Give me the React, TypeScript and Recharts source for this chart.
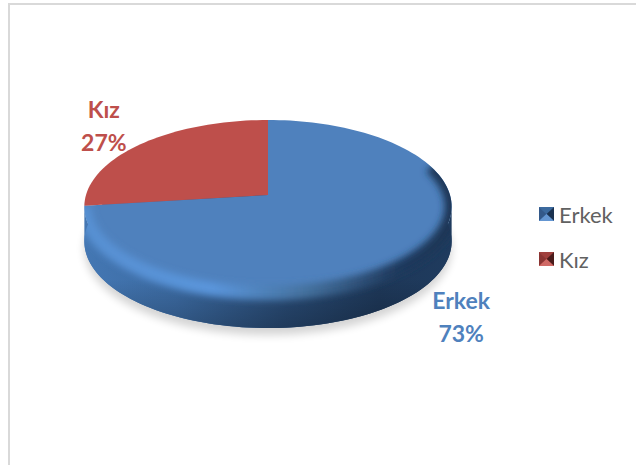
import React from "react";
import { PieChart, Pie, Cell, Legend } from "recharts";

const categories = ["Erkek", "Kız"];
const shares = [73, 27];
const topColors = ["#4F81BD", "#BE4F4B"];

const data = categories.map((name, i) => ({ name, value: shares[i] }));

const FONT = "Lato, sans-serif";
const DEPTH = 35;
// tilt of the disc: the centre sits above the middle of the drawn ellipse
const TILT = -0.133;
const SQUASH = 0.467;

// unit disc -> screen, simple perspective
const project = (cx: number, cy: number, r: number, angle: number, k = 1) => {
  const rad = (angle * Math.PI) / 180;
  const u = Math.cos(rad) * k;
  const v = -Math.sin(rad) * k;
  const w = 1 + TILT * v;
  return { x: cx + (r * u) / w, y: cy + (r * SQUASH * v) / w, v };
};

const arcPoints = (p: any, from: number, to: number) => {
  const pts = [];
  const steps = Math.max(4, Math.ceil(Math.abs(to - from) / 2));
  for (let i = 0; i <= steps; i++) {
    pts.push(project(p.cx, p.cy, p.outerRadius, from + ((to - from) * i) / steps));
  }
  return pts;
};

const toPath = (pts: { x: number; y: number }[]) =>
  pts.map((q, i) => `${i ? "L" : "M"}${q.x.toFixed(2)} ${q.y.toFixed(2)}`).join(" ");

// side wall and floor shadow
const BaseSlice = (p: any) => {
  if (p.name !== categories[0]) return <g />;
  const ring = arcPoints(p, 0, 360);
  const front = arcPoints(p, p.startAngle, p.endAngle).filter((q) => q.v > 0.1);
  const lower = front.map((q) => ({ x: q.x, y: q.y + DEPTH })).reverse();
  const d = toPath(front) + " " + toPath(lower).replace("M", "L") + " Z";
  const shadow = toPath(ring.map((q) => ({ x: q.x, y: q.y + DEPTH + 7 }))) + " Z";
  return (
    <g>
      <path d={shadow} fill="#000" opacity={0.17} filter="url(#floorBlur)" />
      <path d={toPath(ring.map((q) => ({ x: q.x, y: q.y + DEPTH }))) + " Z"} fill="url(#wall)" />
      <path d={d} fill="url(#wall)" />
      <path d={d} fill="url(#wallDown)" />
    </g>
  );
};

const TopSlice = (p: any) => {
  const arc = arcPoints(p, p.startAngle, p.endAngle);
  const apex = project(p.cx, p.cy, p.outerRadius, 0, 0);
  const d = `M${apex.x} ${apex.y} ` + toPath(arc).replace("M", "L") + " Z";
  if (p.name !== categories[0]) return <path d={d} fill={p.fill} />;
  const ringPts = arcPoints(p, 0, 360);
  const ring = toPath(ringPts) + " Z";
  const ringLow = toPath(ringPts.map((q) => ({ x: q.x, y: q.y + DEPTH }))) + " Z";
  const rim = arc.filter((q) => q.v > -0.35);
  return (
    <g>
      <clipPath id="discClip">
        <path d={ring} />
        <path d={ringLow} />
      </clipPath>
      <path d={d} fill={p.fill} />
      <g clipPath="url(#discClip)">
        <path d={toPath(rim)} fill="none" stroke="url(#bevel)" strokeWidth={14} filter="url(#bevelBlur)" />
      </g>
    </g>
  );
};

const labelShift: Record<string, number[]> = { Erkek: [10, 39], "Kız": [-16, -16] };

const renderLabel = (p: any) => {
  const at = project(p.cx, p.cy, p.outerRadius, p.midAngle, 1.2);
  const [sx, sy] = labelShift[p.name];
  return (
    <text x={at.x + sx} y={at.y + sy} textAnchor="middle" fill={p.fill} fontFamily={FONT} fontWeight={700} fontSize={23}>
      <tspan x={at.x + sx} dy={0}>{p.name}</tspan>
      <tspan x={at.x + sx} dy={33}>{`${Math.round(p.percent * 100)}%`}</tspan>
    </text>
  );
};

const LegendBox = () => (
  <div style={{ fontFamily: FONT, fontSize: 22, color: "#616161" }}>
    {categories.map((name, i) => (
      <div key={name} style={{ display: "flex", alignItems: "center", height: 24, marginBottom: 21 }}>
        <svg width={15} height={14} style={{ marginRight: 5 }}>
          <rect width={15} height={14} fill={topColors[i]} />
          <polygon points="0,0 15,0 7.5,7" fill={i ? "#A0403D" : "#3C6A9E"} />
          <polygon points="0,0 0,14 7.5,7" fill={i ? "#8A3533" : "#33598A"} />
          <polygon points="15,0 15,14 7.5,7" fill={i ? "#4A1C1B" : "#1B3250"} />
          <polygon points="0,14 15,14 7.5,7" fill={i ? "#D06A66" : "#6496D2"} />
        </svg>
        {name}
      </div>
    ))}
  </div>
);

export default function App() {
  return (
    <div style={{ position: "absolute", left: 0, top: 0, width: 636, height: 465, background: "#fff", overflow: "hidden" }}>
      <div style={{ position: "absolute", left: 8, top: 3, width: 640, height: 2, background: "#D9D9D9" }} />
      <div style={{ position: "absolute", left: 8, top: 3, width: 2, height: 470, background: "#D9D9D9" }} />
      <PieChart width={636} height={465} margin={{ top: 0, right: 0, bottom: 0, left: 0 }}>
        <defs>
          <linearGradient id="wall" x1="0" y1="0" x2="1" y2="0">
            <stop offset="0" stopColor="#4477B3" />
            <stop offset="0.25" stopColor="#3C6BA3" />
            <stop offset="0.55" stopColor="#294B75" />
            <stop offset="0.8" stopColor="#1E3859" />
            <stop offset="1" stopColor="#1F3B5E" />
          </linearGradient>
          <linearGradient id="wallDown" x1="0" y1="0" x2="0" y2="1">
            <stop offset="0.6" stopColor="#000" stopOpacity={0} />
            <stop offset="1" stopColor="#000" stopOpacity={0.22} />
          </linearGradient>
          <linearGradient id="bevel" x1="0" y1="0" x2="1" y2="0">
            <stop offset="0" stopColor="#5790D2" />
            <stop offset="0.35" stopColor="#5A95DB" />
            <stop offset="0.6" stopColor="#45729F" />
            <stop offset="0.85" stopColor="#1F3A5E" />
            <stop offset="1" stopColor="#1D3656" />
          </linearGradient>
          <filter id="floorBlur" x="-10%" y="-20%" width="120%" height="140%">
            <feGaussianBlur stdDeviation="4" />
          </filter>
          <filter id="bevelBlur" x="-10%" y="-20%" width="120%" height="140%">
            <feGaussianBlur stdDeviation="3.5" />
          </filter>
        </defs>
        <Pie
          data={data}
          dataKey="value"
          nameKey="name"
          cx={268}
          cy={195}
          outerRadius={182}
          startAngle={90}
          endAngle={-270}
          stroke="none"
          legendType="none"
          shape={BaseSlice}
          isAnimationActive={false}
        >
          {categories.map((c, i) => <Cell key={c} fill={topColors[i]} />)}
        </Pie>
        <Pie
          data={data}
          dataKey="value"
          nameKey="name"
          cx={268}
          cy={195}
          outerRadius={182}
          startAngle={90}
          endAngle={-270}
          stroke="none"
          shape={TopSlice}
          label={renderLabel}
          labelLine={false}
          isAnimationActive={false}
        >
          {categories.map((c, i) => <Cell key={c} fill={topColors[i]} />)}
        </Pie>
        <Legend layout="vertical" align="right" verticalAlign="top" content={<LegendBox />} wrapperStyle={{ top: 202, left: 539, width: 95 }} />
      </PieChart>
    </div>
  );
}
